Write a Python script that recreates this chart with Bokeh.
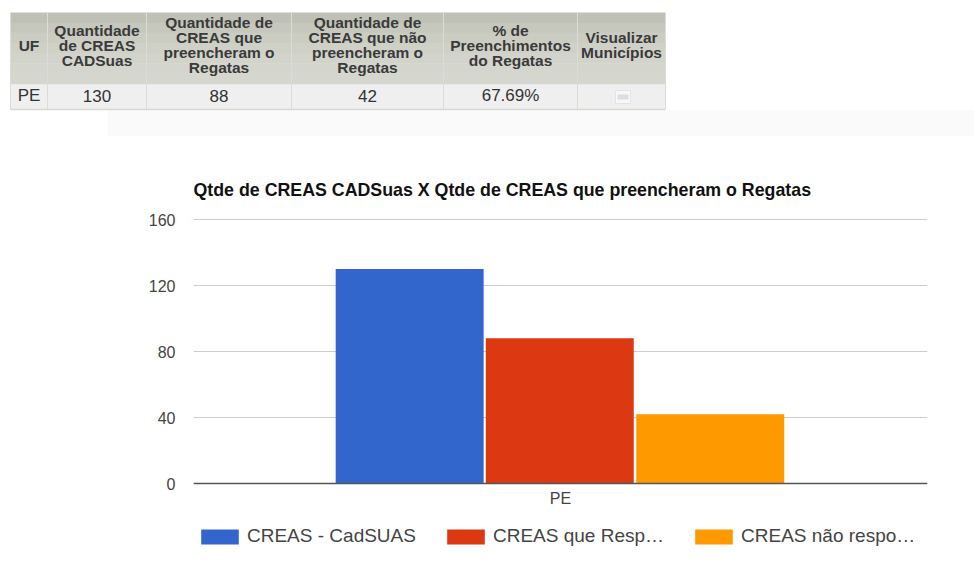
from bokeh.plotting import figure
from bokeh.models import ColumnDataSource, FactorRange, Range1d, FixedTicker, Legend, LegendItem, Title
from bokeh.transform import dodge
from bokeh.core.properties import value
from bokeh.embed import file_html
from bokeh.resources import INLINE

# ---- data ----
table_headers = [
    ["UF"],
    ["Quantidade", "de CREAS", "CADSuas"],
    ["Quantidade de", "CREAS que", "preencheram o", "Regatas"],
    ["Quantidade de", "CREAS que não", "preencheram o", "Regatas"],
    ["% de", "Preenchimentos", "do Regatas"],
    ["Visualizar", "Municípios"],
]
table_row = ["PE", "130", "88", "42", "67.69%", ""]
categories = ["PE"]
creas_cadsuas = [130]
creas_responderam = [88]
creas_nao_responderam = [42]
series_names = ["CREAS - CadSUAS", "CREAS que Resp…", "CREAS não respo…"]
y_ticks = [0, 40, 80, 120, 160]
chart_title = "Qtde de CREAS CADSuas X Qtde de CREAS que preencheram o Regatas"

# ---- layout / style ----
W = 974
TOP_H = 136
C_H = 421
FONT = value("Liberation Sans")
col_edges = [10, 47, 146, 291, 443, 577, 665]
head_top, head_bot, row_bot = 12, 83, 109
colors = ["#3366cc", "#dc3912", "#ff9900"]

# ---- table figure: x/y in page pixels ----
t = figure(width=W, height=TOP_H, x_range=Range1d(0, W), y_range=Range1d(TOP_H, 0),
           toolbar_location=None, output_backend="svg", min_border=0, outline_line_color=None)
t.axis.visible = False
t.grid.visible = False
t.quad(left=[107], right=[W], top=[110], bottom=[136], fill_color="#fafafa", line_color=None)
bands = ["#bfc1b6", "#c6c8bd", "#cbcdc3", "#cfd1c7", "#d2d4cb", "#d4d6cd", "#d5d7ce"]
bh = (head_bot - head_top) / len(bands)
for i, c in enumerate(bands):
    t.quad(left=[col_edges[0]], right=[col_edges[-1]], top=[head_top + i * bh],
           bottom=[head_top + (i + 1) * bh + 0.5], fill_color=c, line_color=None)
t.quad(left=[col_edges[0]], right=[col_edges[-1]], top=[head_bot], bottom=[row_bot],
       fill_color="#efefef", line_color=None)
t.segment(x0=col_edges, x1=col_edges, y0=[head_top] * 7, y1=[row_bot] * 7, line_color="#dcdcd6", line_width=1)
t.segment(x0=[col_edges[0]] * 2, x1=[col_edges[-1]] * 2, y0=[head_bot, row_bot], y1=[head_bot, row_bot],
          line_color="#d6d6d2", line_width=1.5)
for i, lines in enumerate(table_headers):
    cx = (col_edges[i] + col_edges[i + 1]) / 2
    n = len(lines)
    lh = 15
    mid = (head_top + head_bot) / 2 - 3
    for j, s in enumerate(lines):
        t.text(x=[cx], y=[mid + (j - (n - 1) / 2) * lh], text=[s], text_align="center", text_baseline="middle",
               text_font=FONT, text_font_style="bold", text_font_size="15.5px", text_color="#3a3a3a")
    if table_row[i]:
        t.text(x=[cx], y=[95], text=[table_row[i]], text_align="center", text_baseline="middle",
               text_font=FONT, text_font_size="17px", text_color="#333333")
t.quad(left=[615], right=[630], top=[90], bottom=[103], fill_color="#f6f7f8", line_color="#dfe5ea")
t.quad(left=[617], right=[628], top=[94], bottom=[99], fill_color="#dddddd", line_color=None)

# ---- chart figure: frame runs down past the baseline so the legend sits inside it ----
top_pad = 2
tick_top, frame_zero = 219, 483
px_per_unit = (frame_zero - tick_top) / max(y_ticks)
y_start = -((TOP_H + C_H) - frame_zero) / px_per_unit
y_end = max(y_ticks) + top_pad / px_per_unit
p = figure(width=W, height=C_H, x_range=FactorRange(factors=categories), y_range=Range1d(y_start, y_end),
           toolbar_location=None, output_backend="svg", outline_line_color=None,
           min_border_left=193, min_border_right=47, min_border_top=tick_top - top_pad - TOP_H, min_border_bottom=0)
p.title = Title(text=chart_title, align="left", standoff=35, text_font="Liberation Sans", text_font_style="bold",
                text_font_size="17.8px", text_color="#111111")
src = ColumnDataSource(dict(uf=categories, a=creas_cadsuas, b=creas_responderam, c=creas_nao_responderam))
rs = []
for key, off, col in zip(["a", "b", "c"], [-0.2055, -0.001, 0.204], colors):
    rs.append(p.vbar(x=dodge("uf", off, range=p.x_range), top=key, width=0.2016, source=src,
                     fill_color=col, line_color=None))
p.xgrid.visible = False
p.ygrid.grid_line_color = "#cccccc"
p.ygrid.ticker = FixedTicker(ticks=y_ticks)
p.yaxis.ticker = FixedTicker(ticks=y_ticks)
p.yaxis.axis_line_color = None
p.yaxis.major_tick_line_color = None
p.yaxis.minor_tick_line_color = None
p.yaxis.major_label_standoff = 12
p.yaxis.major_label_text_font = "Liberation Sans"
p.yaxis.major_label_text_font_size = "16px"
p.yaxis.major_label_text_color = "#444444"
p.xaxis.fixed_location = 0
p.xaxis.axis_line_color = "#555555"
p.xaxis.axis_line_width = 1.5
p.xaxis.major_tick_line_color = None
p.xaxis.minor_tick_line_color = None
p.xaxis.major_label_standoff = 0
p.xaxis.major_label_text_font = "Liberation Sans"
p.xaxis.major_label_text_font_size = "16px"
p.xaxis.major_label_text_color = "#444444"
leg = Legend(items=[LegendItem(label=n, renderers=[r]) for n, r in zip(series_names, rs)],
             location=(3, 10), orientation="horizontal",
             padding=0, margin=0, spacing=26, glyph_width=47, glyph_height=19, label_standoff=4,
             background_fill_alpha=0, border_line_color=None,
             label_text_font="Liberation Sans", label_text_font_size="19px", label_text_color="#444444",
             label_height=15)
p.add_layout(leg, "center")

open("out.html", "w").write(file_html([t, p], INLINE))
